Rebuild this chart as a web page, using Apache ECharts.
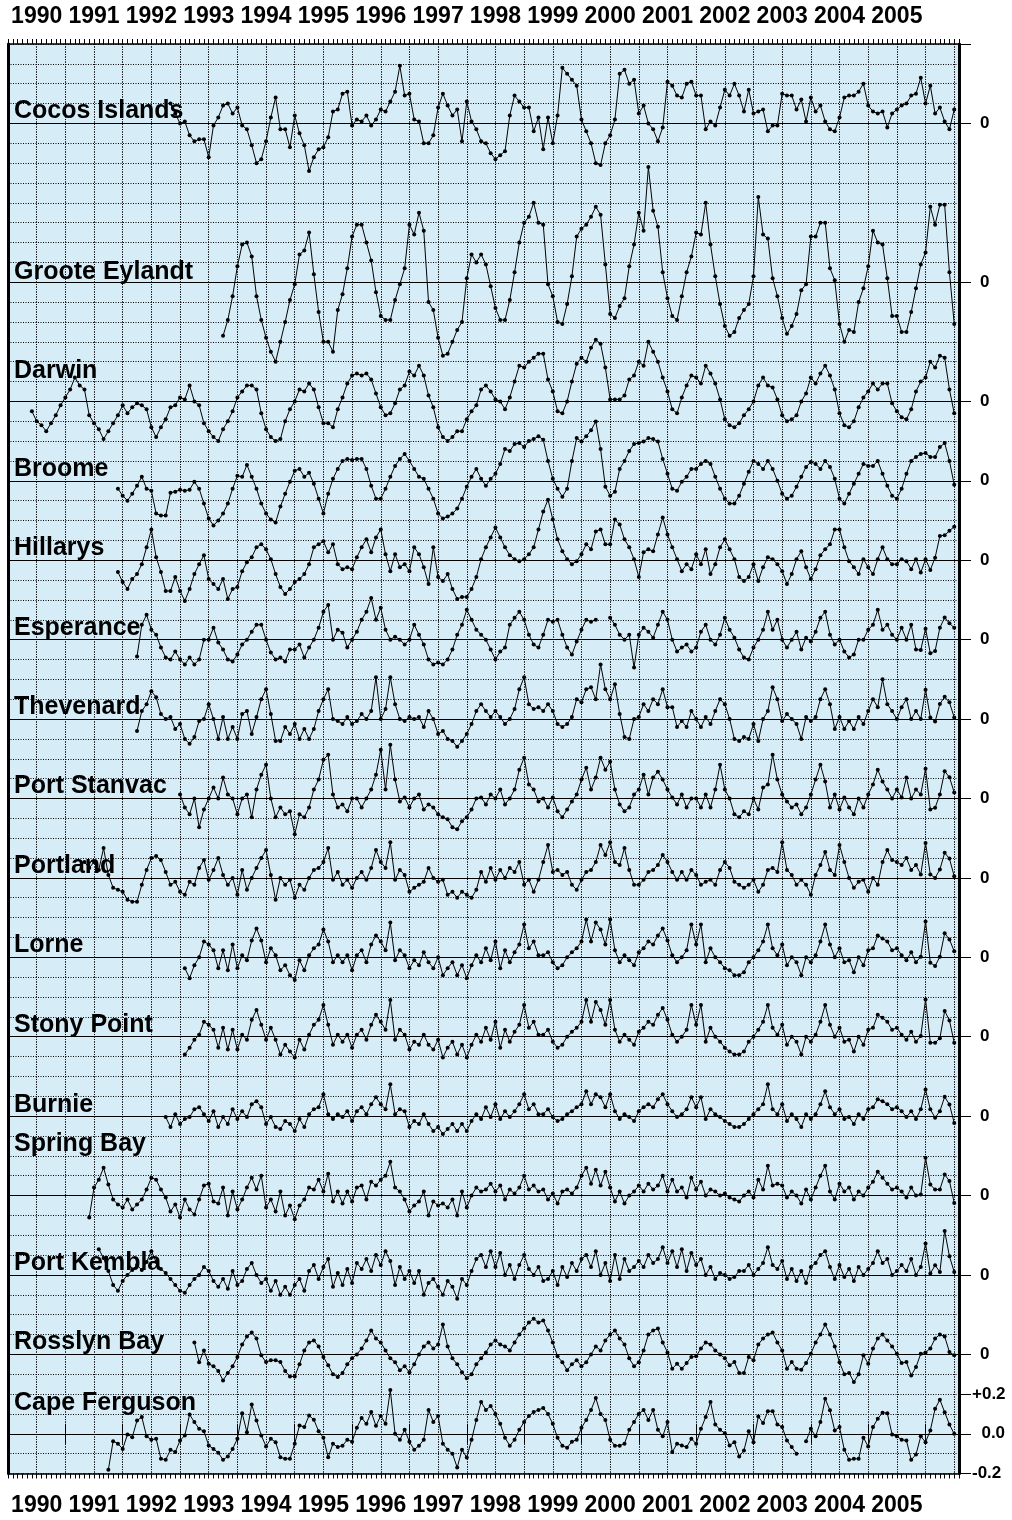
<!DOCTYPE html>
<html>
<head>
<meta charset="utf-8">
<script src="https://cdn.jsdelivr.net/npm/echarts@6/dist/echarts.min.js"></script>
<style>
html, body { margin: 0; padding: 0; background: #ffffff; }
#chart { width: 1012px; height: 1520px; }
</style>
</head>
<body>
<div id="chart"></div>
<script>
// Monthly mean sea-level anomalies (m) for Australian tide gauges.
// Month index 0 = January 1990; every record runs up to LAST_MONTH (July 2006).

const yearLabels = ['1990','1991','1992','1993','1994','1995','1996','1997',
  '1998','1999','2000','2001','2002','2003','2004','2005'];

const stationNames = ['Cocos Islands','Groote Eylandt','Darwin','Broome','Hillarys',
  'Esperance','Thevenard','Port Stanvac','Portland','Lorne','Stony Point','Burnie',
  'Spring Bay','Port Kembla','Rosslyn Bay','Cape Ferguson'];

// vertical offset of each station's zero line (m)
const stationOffsets = [6.6, 5.8, 5.2, 4.8, 4.4, 4.0, 3.6, 3.2, 2.8, 2.4, 2.0, 1.6, 1.2, 0.8, 0.4, 0.0];

const LAST_MONTH = 198;

const cocosIslands = [
  0.10,0.05,0.00,0.01,-0.06,-0.09,-0.08,-0.08,-0.17,-0.01,0.03,0.09,0.10,0.05,0.08,-0.01,
  -0.03,-0.11,-0.20,-0.18,-0.09,0.03,0.13,-0.03,-0.03,-0.12,0.04,-0.05,-0.11,-0.24,-0.17,-0.13,-0.12,
  -0.07,0.06,0.07,0.15,0.16,-0.01,0.02,0.01,0.04,-0.01,0.02,0.07,0.06,0.11,0.16,0.29,0.14,0.15,
  0.02,0.01,-0.10,-0.10,-0.06,0.08,0.15,0.09,0.04,0.07,-0.09,0.11,0.01,-0.03,-0.09,-0.10,-0.15,
  -0.18,-0.16,-0.14,0.04,0.14,0.11,0.08,0.08,-0.04,0.03,-0.13,0.03,-0.10,0.04,0.28,0.25,0.22,
  0.19,0.02,-0.04,-0.10,-0.20,-0.21,-0.10,-0.06,0.02,0.25,0.27,0.20,0.22,0.05,
  0.09,0.00,-0.03,-0.09,-0.02,0.21,0.19,0.14,0.13,0.20,0.21,0.14,0.14,-0.03,0.01,-0.01,0.08,
  0.17,0.14,0.20,0.14,0.06,0.17,0.05,0.06,0.07,-0.04,-0.01,-0.01,0.15,0.14,0.14,0.07,0.12,
  0.01,0.13,0.06,0.09,0.01,-0.03,-0.04,0.03,0.13,0.14,0.14,0.16,0.20,0.09,0.06,0.05,0.06,
  -0.02,0.05,0.07,0.09,0.10,0.14,0.15,0.23,0.10,0.19,0.05,0.08,0.01,-0.03,0.07
];

const grooteEylandt = [
  -0.27,-0.19,-0.07,0.08,0.19,0.20,0.13,-0.07,-0.19,-0.28,-0.35,-0.40,-0.30,-0.20,-0.09,-0.01,
  0.14,0.16,0.25,0.04,-0.15,-0.30,
  -0.30,-0.35,-0.14,-0.06,0.07,0.23,0.29,0.29,0.20,0.11,-0.05,-0.17,-0.19,-0.19,-0.09,-0.01,
  0.07,0.29,0.24,0.35,0.26,-0.10,-0.14,-0.28,-0.37,-0.36,-0.30,-0.24,-0.20,0.02,0.14,0.10,
  0.14,0.09,-0.02,-0.13,-0.19,-0.19,-0.09,0.05,0.20,0.30,0.33,0.40,0.30,0.29,-0.01,-0.07,
  -0.20,-0.21,-0.11,0.03,0.23,0.27,0.29,0.33,0.38,0.34,0.09,-0.16,-0.18,-0.12,-0.08,0.08,0.19,0.35,
  0.26,0.58,0.36,0.28,0.05,-0.08,-0.17,-0.19,-0.07,0.05,0.13,0.25,0.24,0.40,0.19,0.03,-0.11,
  -0.22,-0.27,-0.25,-0.18,-0.14,-0.11,0.03,0.43,0.24,0.22,0.02,-0.07,-0.18,-0.26,-0.22,-0.16,
  -0.04,-0.01,0.23,0.23,0.30,0.30,0.07,0.01,-0.21,-0.30,-0.24,-0.25,-0.10,-0.03,0.08,0.26,
  0.20,0.19,0.02,-0.17,-0.17,-0.25,-0.25,-0.15,-0.03,0.09,0.15,0.38,0.29,0.39,0.39,0.05,-0.21
];

const darwin = [
  -0.05,-0.10,-0.12,-0.15,-0.11,-0.07,-0.02,0.02,0.06,0.12,0.08,0.06,-0.07,-0.11,-0.14,-0.19,
  -0.15,-0.11,-0.07,-0.02,-0.06,-0.03,-0.01,-0.02,-0.04,-0.13,-0.18,-0.13,-0.09,-0.03,-0.02,
  0.02,0.01,0.08,0.00,-0.02,-0.11,-0.15,-0.18,-0.20,-0.14,-0.10,-0.05,0.02,0.05,0.08,0.08,0.06,
  -0.06,-0.14,-0.18,-0.20,-0.19,-0.10,-0.04,0.00,0.06,0.05,0.09,0.06,-0.03,-0.11,
  -0.11,-0.13,-0.04,0.02,0.09,0.13,0.14,0.13,0.14,0.11,0.04,-0.03,-0.07,-0.06,-0.01,0.06,0.08,
  0.15,0.13,0.18,0.13,0.03,-0.03,-0.13,-0.18,-0.20,-0.18,-0.15,-0.15,-0.09,-0.05,-0.02,0.06,
  0.08,0.05,0.01,0.00,-0.04,0.02,0.10,0.18,0.17,0.20,0.22,0.24,0.24,0.11,0.05,-0.05,-0.06,0.00,
  0.10,0.19,0.22,0.20,0.27,0.31,0.29,0.17,0.01,0.01,0.01,0.03,0.11,0.13,0.20,
  0.18,0.30,0.25,0.20,0.12,0.05,-0.04,-0.06,0.02,0.08,0.13,0.12,0.09,0.18,0.14,0.09,0.01,
  -0.09,-0.12,-0.13,-0.11,-0.07,-0.04,0.00,0.08,0.12,0.08,0.07,0.01,-0.07,-0.10,-0.09,-0.07,
  0.00,0.04,0.12,0.09,0.14,0.18,0.13,0.06,-0.06,-0.12,-0.13,-0.10,-0.03,0.02,0.05,0.09,0.06,
  0.09,0.09,-0.01,-0.05,-0.08,-0.09,-0.04,0.05,0.10,0.12,0.20,0.17,0.23,0.22,0.06,-0.06
];

const broome = [
  -0.04,-0.075,-0.10,-0.065,-0.025,0.02,-0.04,-0.05,-0.165,-0.175,-0.175,-0.06,-0.055,
  -0.045,-0.05,-0.045,-0.005,-0.04,-0.115,-0.19,-0.225,-0.20,-0.165,-0.115,-0.04,
  0.025,0.02,0.08,0.02,-0.04,-0.115,-0.165,-0.195,-0.21,-0.13,-0.065,-0.005,
  0.05,0.06,0.02,0.04,-0.015,-0.09,-0.165,-0.065,0.01,0.06,0.10,0.11,
  0.105,0.11,0.11,0.06,-0.025,-0.09,-0.09,-0.04,0.02,0.075,0.11,0.135,
  0.10,0.06,0.02,0.01,-0.04,-0.09,-0.165,-0.19,-0.18,-0.165,-0.14,-0.09,
  -0.03,0.02,0.06,0.01,-0.025,0.01,0.035,0.085,0.16,0.15,0.185,0.19,
  0.17,0.20,0.21,0.224,0.207,0.10,0.01,-0.04,-0.08,-0.04,0.10,0.215,
  0.198,0.224,0.254,0.299,0.16,-0.03,-0.075,-0.055,0.06,0.10,0.15,0.185,
  0.19,0.198,0.215,0.21,0.198,0.11,0.035,-0.04,-0.05,-0.005,0.02,0.06,
  0.06,0.085,0.10,0.085,0.02,-0.04,-0.09,-0.115,-0.115,-0.075,-0.015,0.045,
  0.10,0.085,0.06,0.10,0.06,0.0,-0.065,-0.09,-0.075,-0.03,0.02,0.07,
  0.095,0.085,0.06,0.10,0.07,0.01,-0.09,-0.115,-0.065,-0.015,0.035,0.085,
  0.075,0.075,0.10,0.035,-0.025,-0.075,-0.09,-0.04,0.035,0.10,0.12,0.135,
  0.14,0.12,0.12,0.17,0.19,0.10,-0.02
];

const hillarys = [
  -0.06,-0.11,-0.145,-0.095,-0.07,-0.02,0.065,0.155,0.015,-0.06,-0.155,-0.155,-0.085,
  -0.155,-0.205,-0.145,-0.07,-0.02,0.025,-0.095,-0.12,-0.145,-0.095,-0.195,-0.145,
  -0.135,-0.055,-0.01,0.015,0.065,0.08,0.055,0.005,-0.07,-0.135,-0.17,-0.145,
  -0.11,-0.095,-0.07,-0.02,0.065,0.08,0.095,0.04,0.08,-0.02,-0.045,-0.035,
  -0.045,0.015,0.065,0.105,0.04,0.115,0.155,0.03,-0.055,0.03,-0.035,-0.02,
  -0.055,0.065,0.03,-0.035,-0.12,0.065,-0.085,-0.105,-0.07,-0.145,-0.195,-0.185,
  -0.185,-0.145,-0.085,0.005,0.065,0.115,0.165,0.115,0.065,0.025,0.005,-0.005,
  0.005,0.03,0.065,0.155,0.245,0.305,0.205,0.105,0.045,0.005,-0.02,-0.005,
  0.03,0.08,0.055,0.145,0.155,0.08,0.08,0.205,0.18,0.105,0.065,0.005,
  -0.085,0.04,0.055,0.045,0.13,0.215,0.13,0.065,0.005,-0.055,-0.02,-0.045,
  0.03,-0.02,0.055,-0.07,-0.02,0.065,0.105,0.055,0.005,-0.085,-0.105,-0.085,
  -0.02,-0.105,-0.035,0.015,0.005,-0.02,-0.055,-0.12,-0.07,0.005,0.045,-0.035,
  -0.095,-0.045,0.025,0.055,0.08,0.155,0.155,0.065,-0.005,-0.035,-0.07,0.005,
  -0.035,-0.07,0.005,0.065,0.005,-0.02,-0.02,0.005,-0.005,-0.045,0.005,-0.062,
  0.005,-0.049,0.013,0.122,0.126,0.148,0.169
];

const esperance = [
  -0.085,0.075,0.125,0.05,0.025,-0.04,-0.09,-0.10,-0.06,
  -0.10,-0.125,-0.09,-0.125,-0.10,0,0,0.06,-0.015,-0.05,-0.10,-0.11,
  -0.075,-0.025,0,0.04,0.075,0.075,0,-0.065,-0.10,-0.09,-0.11,-0.05,
  -0.05,-0.025,-0.09,-0.04,0,0.06,0.14,0.175,0,0.05,0.035,-0.04,
  0,0.04,0.10,0.14,0.21,0.10,0.16,0.05,0,0.015,0,-0.025,
  0,0.075,0.025,-0.025,-0.10,-0.125,-0.115,-0.125,-0.10,-0.05,0.025,0.075,
  0.15,0.10,0.05,0.025,0,-0.05,-0.10,-0.06,-0.04,0.075,0.11,0.14,
  0.10,0.025,-0.025,-0.04,0.025,0.10,0.09,0.10,0.025,-0.04,-0.075,-0.01,
  0.05,0.10,0.09,0.10,null,null,0.11,0.075,0.025,0,0.025,-0.14,
  0.025,0.06,0.04,0.01,0.075,0.14,0.10,0,-0.06,-0.04,-0.025,-0.06,
  -0.04,0.04,0.075,0,-0.025,0.025,0.11,0.05,0.01,-0.05,-0.09,-0.10,
  -0.04,0,0.05,0.14,0.05,0.10,0,-0.04,0,0.04,-0.05,0.01,
  -0.01,0.04,0.11,0.14,0.025,-0.025,0,-0.06,-0.09,-0.075,0,0,
  0.05,0.075,0.15,0.05,0.075,0.025,0,0.06,0,0.075,-0.05,-0.052,
  0.055,-0.069,-0.057,0.06,0.111,0.082,0.06
];

const thevenard = [
  -0.06,0.04,0.075,0.14,0.11,0.025,0,0.01,-0.05,
  -0.025,-0.10,-0.125,-0.09,-0.01,0,0.075,0,-0.10,0.01,-0.10,-0.04,
  -0.10,0.025,0.04,-0.075,0.01,0.10,0.15,0.025,-0.11,-0.11,-0.04,-0.075,
  -0.025,-0.10,-0.05,-0.10,-0.05,0.04,0.10,0.15,0,-0.01,-0.025,0.01,
  -0.025,-0.01,0.025,0,0.04,0.21,0,0.05,0.21,0.075,0,-0.01,
  0.01,0,0.01,-0.04,0.04,0,-0.075,-0.06,-0.10,-0.11,-0.14,-0.11,
  -0.075,-0.025,0.04,0.075,0.04,0.01,0.04,0.01,-0.025,0,0.05,0.15,
  0.21,0.075,0.05,0.06,0.04,0.075,0.04,-0.025,-0.04,-0.025,0.01,0.10,
  0.085,0.15,0.16,0.10,0.275,0.15,0.10,0.175,0.025,-0.09,-0.10,0,
  0.01,0.075,0.04,0.10,0.075,0.15,0.06,0.06,-0.04,-0.01,-0.04,0.04,
  0,-0.04,0.01,-0.025,0.04,0.10,0.075,0,-0.10,-0.11,-0.09,-0.10,
  -0.025,-0.11,0,0.04,0.16,0.10,-0.01,0.025,0,-0.025,-0.10,0.01,
  -0.01,0.01,0.10,0.15,0.075,-0.05,0.01,-0.05,-0.01,-0.05,0.01,-0.025,
  0.04,0.10,0.06,0.20,0.075,0.04,0,0.06,0.10,0,0.04,0,
  0.148,0.008,-0.013,0.076,0.112,0.084,0.008
];

const portStanvac = [
  0.02,-0.045,-0.08,0,-0.145,-0.055,0,0.055,0,0.105,0.02,0,
  -0.08,0,0.02,-0.095,0.045,0.12,0.17,0,-0.095,-0.045,-0.08,-0.065,
  -0.18,-0.08,-0.095,-0.045,0.045,0.095,0.195,0.22,0.02,-0.045,-0.03,-0.065,
  0,0,-0.045,0,0.045,0.12,0.245,0.045,0.27,0.095,-0.015,0.005,
  -0.045,0,0.02,-0.055,-0.03,-0.045,-0.08,-0.095,-0.105,-0.145,-0.155,-0.115,
  -0.095,-0.055,0,0.005,-0.03,0.02,0,0.045,-0.03,0,0.045,0.145,
  0.205,0.07,0.045,-0.015,0,-0.045,0.005,-0.065,-0.095,-0.055,-0.015,0.02,
  0.095,0.155,0.045,0.105,0.205,0.145,0.185,0.045,-0.03,-0.065,-0.045,0.02,
  0.045,0.12,0.02,0.105,0.135,0.095,0.045,0.005,-0.03,0.02,-0.045,0,
  0,-0.045,0.02,-0.045,0.045,0.17,0.045,0,-0.08,-0.095,-0.065,-0.08,
  0,-0.055,0.055,0.07,0.22,0.095,0.02,-0.015,-0.045,-0.03,-0.08,-0.045,
  0.02,0.095,0.17,0.085,-0.045,0.02,-0.055,0.005,-0.045,-0.08,0,-0.045,
  0.02,0.07,0.145,0.085,0.045,0,0.045,0.005,0.105,0,0.045,0.02,
  0.15,-0.055,-0.047,0.02,0.137,0.107,0.03
];

const portland = [
  0.08,0.05,0.08,0.04,0.15,0.015,-0.05,-0.06,
  -0.07,-0.11,-0.12,-0.12,-0.035,0.04,0.10,0.11,0.09,0.03,-0.035,-0.02,
  -0.07,-0.085,-0.02,-0.035,0.05,0.09,-0.01,0.04,0.10,0.015,-0.035,0,
  -0.085,0.04,-0.06,0,0.05,0.10,0.14,0.015,-0.11,0,-0.035,-0.01,
  -0.10,-0.035,-0.06,0,0.04,0.05,0.08,0.15,-0.01,0.03,-0.035,-0.01,
  -0.05,0,0.03,-0.01,0.05,0.14,0.08,0.05,0.18,-0.01,0.04,0.015,
  -0.07,-0.05,-0.035,-0.02,0.05,0,-0.02,-0.01,-0.085,-0.07,-0.10,-0.07,
  -0.085,-0.10,-0.06,0.03,-0.02,0.05,-0.01,0.04,0,0.05,0.03,0.08,
  -0.035,-0.01,-0.07,-0.01,0.08,0.165,0.03,0.04,0.015,0.03,-0.035,-0.06,
  -0.01,0.03,0.04,0.08,0.165,0.115,0.18,0.08,0.065,0.15,0.04,-0.035,
  -0.035,-0.01,0.03,0.04,0.065,0.115,0.08,0.03,-0.01,0.03,-0.01,0.04,
  0.015,-0.035,-0.02,-0.01,-0.035,0.04,0.08,0.05,-0.02,-0.035,-0.05,-0.035,
  -0.01,-0.07,-0.035,0.04,0.05,0.03,0.18,0.04,0.015,-0.035,-0.01,-0.035,
  -0.085,0.015,0.065,0.13,0.04,0.015,0.165,0.08,0,-0.05,-0.02,-0.01,
  -0.07,0,-0.035,0.08,0.14,0.09,0.08,0.065,0.10,0.04,0.065,0.017,
  0.176,0.017,0,0.042,0.126,0.097,0.008
];

const lorne = [
  -0.055,-0.105,-0.04,0,0.08,0.065,0.035,-0.055,0.035,-0.065,0.065,
  -0.055,0.01,-0.015,0.085,0.145,0.085,-0.025,0.045,0.01,-0.065,-0.04,-0.09,
  -0.115,-0.015,-0.065,0.01,0.045,0.065,0.14,0.08,-0.025,0.01,-0.025,0.01,
  -0.065,0.01,0.035,-0.025,0.065,0.11,0.08,0.035,0.175,-0.015,0.035,0.01,
  -0.055,-0.015,-0.04,0.025,-0.025,-0.055,0,-0.09,-0.055,-0.025,-0.09,-0.04,
  -0.105,-0.04,0.01,-0.025,0.045,-0.015,0.08,-0.055,0.035,-0.025,0.025,0.065,
  0.165,0.045,0.08,0.01,0.01,0.025,-0.025,-0.055,-0.04,0,0.025,0.045,
  0.08,0.19,0.08,0.175,0.14,0.065,0.19,0.035,-0.025,0.01,-0.015,-0.04,
  0.025,0.045,0.08,0.065,0.11,0.145,0.085,0.01,-0.025,0,0.035,0.165,
  0.065,0.165,-0.025,0.045,0,-0.025,-0.055,-0.065,-0.09,-0.09,-0.075,-0.025,
  0,0.035,0.08,0.165,0.045,0.01,0.065,-0.04,0,-0.025,-0.09,0,
  -0.025,0.01,0.08,0.165,0.065,0,0.045,-0.025,-0.015,-0.075,0,-0.04,
  0.035,0.045,0.11,0.095,0.08,0.035,0.045,0.01,-0.015,0.025,-0.025,0.003,
  0.18,-0.027,-0.044,0.003,0.121,0.09,0.03
];

const stonyPoint = [
  -0.09,-0.055,-0.015,0.01,0.075,0.06,0.035,-0.055,0.045,-0.065,0.035,
  -0.065,0.01,-0.015,0.085,0.135,0.06,-0.015,0.045,-0.015,-0.09,-0.04,-0.075,
  -0.105,-0.015,-0.065,0.01,0.06,0.085,0.16,0.06,-0.04,0.01,-0.025,0.01,
  -0.055,0.01,0.035,-0.015,0.06,0.11,0.075,0.035,0.185,-0.015,0.035,0.01,
  -0.065,-0.025,-0.04,0.01,-0.04,-0.065,-0.015,-0.105,-0.055,-0.025,-0.09,-0.04,
  -0.105,-0.04,0.01,-0.025,0.045,-0.015,0.075,-0.055,0.035,-0.025,0.025,0.06,
  0.16,0.045,0.075,0.01,0.01,0.035,-0.025,-0.055,-0.04,0,0.025,0.045,
  0.075,0.185,0.075,0.175,0.135,0.06,0.185,0.035,-0.025,0.01,-0.015,-0.04,
  0.025,0.045,0.075,0.06,0.11,0.145,0.085,0.01,-0.025,0,0.035,0.16,
  0.06,0.16,-0.025,0.045,0,-0.025,-0.055,-0.075,-0.09,-0.09,-0.075,-0.025,
  0,0.035,0.075,0.16,0.045,0.01,0.06,-0.04,0,-0.025,-0.09,0,
  -0.025,0.01,0.075,0.16,0.06,0,0.045,-0.025,-0.015,-0.075,0,-0.04,
  0.035,0.045,0.11,0.095,0.075,0.035,0.045,0.01,-0.015,0.025,-0.025,0.003,
  0.188,-0.03,-0.03,-0.008,0.13,0.082,-0.03
];

const burnie = [
  -0.005,-0.055,0.01,
  -0.04,-0.015,-0.005,0.035,0.045,0.01,-0.025,0.025,-0.055,-0.005,-0.04,0.035,
  -0.015,0.025,-0.005,0.06,0.075,0.045,-0.04,-0.005,-0.055,-0.065,-0.025,-0.04,
  -0.075,-0.015,-0.055,0.01,0.035,0.045,0.11,0.01,-0.015,0.01,-0.005,0.025,
  -0.025,0.025,0.045,0.01,0.06,0.095,0.06,0.035,0.16,0.01,0.035,0.025,
  -0.055,-0.025,-0.04,0.01,-0.04,-0.075,-0.055,-0.09,-0.065,-0.04,-0.075,-0.04,
  -0.075,-0.025,0.01,-0.015,0.045,-0.005,0.06,-0.015,0.025,-0.005,0.025,0.06,
  0.11,0.035,0.06,0.01,0.01,0.035,-0.005,-0.025,-0.015,0.01,0.025,0.045,
  0.06,0.125,0.06,0.11,0.095,0.045,0.11,0.025,-0.015,0.01,-0.005,-0.025,
  0.025,0.045,0.06,0.045,0.085,0.11,0.06,0.025,-0.005,0.01,0.035,0.095,
  0.045,0.095,-0.015,0.035,0.01,-0.005,-0.025,-0.04,-0.055,-0.055,-0.04,-0.015,
  0.01,0.035,0.06,0.16,0.035,0.01,0.06,-0.025,0.01,-0.015,-0.055,0.01,
  -0.015,0.01,0.06,0.125,0.045,0.01,0.035,-0.015,-0.005,-0.04,0.01,-0.015,
  0.035,0.045,0.085,0.075,0.06,0.035,0.045,0.025,-0.005,0.025,-0.015,0.034,
  0.134,0.034,-0.008,0.025,0.097,0.059,-0.034
];

const springBay = [
  -0.11,0.04,0.08,0.14,0.055,-0.02,-0.045,
  -0.06,-0.02,-0.07,-0.045,-0.02,0.03,0.09,0.08,0.03,-0.01,-0.08,-0.045,
  -0.11,-0.02,-0.07,-0.095,-0.02,0.05,0.06,-0.03,-0.04,0.04,-0.10,0.02,
  -0.07,-0.02,0.04,0.09,0.03,0.10,-0.06,-0.02,-0.08,0.02,-0.10,-0.05,
  -0.12,-0.05,-0.02,0.04,0.03,0.08,0.02,0.11,-0.03,0.02,-0.04,0.02,
  -0.03,0.04,0.05,-0.02,0.07,0.05,0.08,0.10,0.17,0.04,0.02,-0.02,
  -0.08,-0.05,-0.03,0.02,-0.10,-0.03,-0.05,-0.04,-0.06,-0.02,-0.10,0.02,
  -0.06,0,0.04,0.02,0.03,0.06,0.02,0.05,-0.02,0.03,0.01,0.04,
  0.10,0.03,0.05,0.02,0.03,-0.02,0.01,-0.04,0.02,0.03,0.01,0.04,
  0.10,0.14,0.06,0.13,0.05,0.12,0.04,-0.03,0.02,-0.04,0,0.02,
  0.05,0.02,0.06,0.03,0.05,0.10,0.02,0.08,0.02,0.04,-0.01,0.09,
  0.03,0.07,0,0.03,0.02,0,0.01,-0.01,-0.02,-0.03,0,0.02,
  -0.01,0.08,0.03,0.15,0.05,0.06,0.05,-0.01,0.02,0,-0.04,0.03,
  -0.02,0.04,0.10,0.15,0.02,-0.02,0.06,0.02,0.04,-0.02,0.02,0,
  0.04,0.07,0.12,0.09,0.06,0.03,0.04,0.02,-0.01,0.04,0,0.005,
  0.19,0.055,0.03,0.03,0.106,0.073,-0.037
];

const portKembla = [
  0.13,0.085,0.02,-0.05,-0.08,
  -0.03,0,0.025,0.05,0.025,0.065,0.12,0.065,0.03,0.01,-0.02,-0.05,
  -0.08,-0.09,-0.05,-0.02,0,0.04,0.02,-0.03,-0.06,-0.02,-0.07,0.02,
  -0.05,-0.03,0.03,0.06,0,-0.04,-0.02,-0.08,-0.03,-0.10,-0.06,-0.10,
  -0.05,-0.02,-0.08,0.02,0.05,-0.02,0.04,0.08,-0.06,0.01,-0.05,0.03,
  -0.04,0.06,0.03,0.08,0.02,0.10,0.05,0.12,0.07,-0.05,0.04,-0.02,
  0.02,-0.04,0.02,-0.10,-0.04,-0.02,-0.06,-0.10,-0.03,-0.06,-0.12,-0.02,
  -0.05,0.02,0.08,0.10,0.04,0.12,0.04,0.11,0,0.05,-0.02,0.05,
  0.10,0.03,0,0.04,-0.03,-0.02,0.02,-0.05,0.04,-0.01,0.06,0.02,
  0.08,0.10,0.04,0.12,0,0.06,-0.03,0.10,-0.02,0.08,0.02,0.04,
  0.07,0.04,0.10,0.06,0.08,0.14,0.06,0.12,0.04,0.13,0.02,0.11,
  0.05,0.08,0,0.04,-0.02,0.01,0,-0.02,-0.01,0.02,0.02,0.05,
  0,0.03,0.06,0.14,0.05,0.03,0.07,-0.02,0.03,-0.03,0.02,-0.04,
  0.04,0.06,0.10,0.12,0.04,-0.02,0.05,-0.01,0.03,-0.03,0.04,0,
  0.03,0.06,0.12,0.06,0.08,0,0.02,0.05,0.02,0.08,0,0.04,
  0.158,0.007,0.049,0.015,0.222,0.094,0.015
];

const rosslynBay = [
  0.06,
  -0.04,0.02,-0.047,-0.06,-0.084,-0.131,-0.094,-0.06,
  -0.013,0.05,0.09,0.11,0.08,-0.005,-0.039,-0.03,-0.03,-0.039,-0.084,-0.111,
  -0.111,-0.05,0.02,0.06,0.07,0.04,-0.013,-0.055,-0.10,-0.114,-0.094,-0.05,
  -0.02,0,0.03,0.07,0.12,0.08,0.06,0.02,-0.02,-0.04,-0.08,-0.06,
  -0.09,-0.05,0,0.04,0.06,0.03,0.05,0.15,0.04,-0.02,-0.05,-0.09,
  -0.12,-0.10,-0.05,-0.02,0.01,0.05,0.07,0.05,0.04,0.02,0.06,0.10,
  0.13,0.16,0.18,0.16,0.17,0.12,0.06,-0.01,-0.04,-0.08,-0.05,-0.03,
  -0.06,-0.04,0,0.04,0.02,0.07,0.10,0.12,0.08,0.05,-0.02,-0.06,
  -0.04,0.02,0.10,0.12,0.13,0.06,0.01,-0.072,-0.047,-0.072,-0.044,-0.013,
  -0.01,0.03,0.06,0.05,0.02,0,-0.02,-0.055,-0.039,-0.094,-0.094,-0.013,
  -0.03,0.05,0.08,0.10,0.11,0.06,0.02,-0.072,-0.039,-0.072,-0.077,-0.044,
  0.003,0.06,0.10,0.15,0.10,0.04,-0.04,-0.10,-0.094,-0.139,-0.10,-0.005,
  -0.047,0.03,0.08,0.10,0.07,0.04,0.003,-0.044,-0.039,-0.106,-0.064,0.003,
  0.01,0.03,0.08,0.10,0.09,0.012,-0.005
];

const capeFerguson = [
  -0.181,-0.037,-0.05,
  -0.076,-0.003,-0.017,0.067,0.084,-0.013,-0.03,-0.025,-0.126,-0.131,-0.081,-0.092,
  -0.034,-0.008,0.097,0.059,0.025,0.013,-0.059,-0.076,-0.096,-0.131,-0.114,-0.076,
  -0.025,0.104,0.008,0.148,0.067,-0.008,-0.064,-0.025,-0.042,-0.118,-0.126,-0.126,
  -0.05,0.042,0.034,0.092,0.071,0.013,-0.02,-0.118,-0.05,-0.067,-0.06,-0.03,
  -0.04,0.03,0.08,0.05,0.11,0.04,0.09,0.05,0.22,0,-0.03,0.02,
  -0.04,-0.08,-0.06,-0.03,0.12,0.06,0.09,-0.05,-0.08,-0.10,-0.17,-0.08,
  -0.12,-0.03,0.07,0.16,0.12,0.14,0.10,0.05,-0.02,-0.06,-0.03,0.02,
  0.06,0.09,0.11,0.12,0.13,0.10,0.05,-0.02,-0.06,-0.07,-0.04,-0.03,
  0.03,0.07,0.12,0.18,0.10,0.07,-0.03,-0.06,-0.06,-0.05,0.02,0.06,
  0.10,0.12,0.07,0.12,0.02,-0.013,0.059,-0.092,-0.05,-0.059,-0.067,-0.025,
  -0.05,0.025,0.084,0.16,0.047,0.02,0.003,-0.059,-0.042,-0.114,-0.084,0.013,
  -0.042,0.087,0.054,0.114,0.114,0.047,0.034,-0.034,-0.067,-0.1,null,-0.037,
  0.025,-0.013,0.059,0.176,0.118,0.017,0.034,-0.08,-0.131,-0.126,-0.126,-0.02,
  -0.064,0.034,0.076,0.106,0.104,-0.003,-0.013,-0.03,-0.034,-0.131,-0.104,-0.013,
  -0.042,0.017,0.126,0.172,0.109,0.047,0
];

const stationValues = [cocosIslands, grooteEylandt, darwin, broome, hillarys, esperance,
  thevenard, portStanvac, portland, lorne, stonyPoint, burnie, springBay, portKembla,
  rosslynBay, capeFerguson];

// first month index of each record
const stationStarts = stationValues.map(v => LAST_MONTH - v.length + 1);

// height of each station name's centre above its zero line (m)
const nameLift = [0.06, 0.05, 0.15, 0.06, 0.06, 0.06, 0.06, 0.06, 0.06, 0.06, 0.06, 0.055,
  0.26, 0.06, 0.06, 0.155];

// scale labels drawn next to the lowest record
const scaleTicks = [0.2, 0.0, -0.2];
const scaleLabels = ['+0.2', '  0.0', '-0.2'];

const X_MIN = 1990, X_MAX = 2006 + 7 / 12;
const Y_MIN = -0.2, Y_MAX = 7.0;
const FONT = '"Liberation Sans", Arial, Helvetica, sans-serif';

const near = (a, b) => Math.abs(a - b) < 1e-6;

function yearLabel(v) {
  const y = Math.floor(v + 1e-9);
  if (near(v - y, 0.5) && y - 1990 < yearLabels.length) return yearLabels[y - 1990];
  return '';
}

function halfYearAxis(position, margin) {
  return {
    type: 'value', position: position, min: X_MIN, max: X_MAX, interval: 0.5,
    axisLine: { show: true, onZero: false, lineStyle: { color: '#000', width: 1.5 } },
    axisTick: { show: true, length: 5, lineStyle: { color: '#000', width: 1 } },
    minorTick: { show: true, splitNumber: 6, length: 5, lineStyle: { color: '#000', width: 1 } },
    splitLine: { show: true, lineStyle: { color: '#000', width: 1, type: [1, 1.5] } },
    axisLabel: {
      show: true, formatter: yearLabel, margin: margin, showMinLabel: false, showMaxLabel: false,
      fontFamily: FONT, fontWeight: 'bold', fontSize: 23, color: '#000'
    }
  };
}

function yearTickAxis(position) {
  return {
    type: 'value', position: position, min: X_MIN, max: X_MAX, interval: 1,
    axisLine: { show: false },
    axisTick: { show: true, length: 10, lineStyle: { color: '#000', width: 1 } },
    axisLabel: { show: false },
    splitLine: { show: false }
  };
}

const series = stationNames.map((name, k) => {
  const off = stationOffsets[k];
  const start = stationStarts[k];
  return {
    name: name,
    type: 'line',
    xAxisIndex: 0,
    yAxisIndex: 0,
    data: stationValues[k].map((v, i) => [X_MIN + (start + i) / 12, v === null ? '-' : off + v]),
    symbol: 'circle',
    symbolSize: 4,
    showSymbol: true,
    connectNulls: false,
    lineStyle: { color: '#000', width: 1 },
    itemStyle: { color: '#000' },
    z: 5,
    markLine: {
      silent: true, symbol: 'none', animation: false,
      label: { show: false },
      lineStyle: { color: '#000', width: 1, type: 'solid' },
      data: [{ yAxis: off }]
    }
  };
});

const zeroLabelValues = stationOffsets.slice(0, stationOffsets.length - 1);
const rightTickValues = stationOffsets.concat([0.2, -0.2, Y_MAX]);

const chart = echarts.init(document.getElementById('chart'), null, { renderer: 'canvas' });

const option = {
  animation: false,
  backgroundColor: '#ffffff',
  grid: {
    left: 8, right: 1012 - 959, top: 44, bottom: 1520 - 1473.5,
    show: true, backgroundColor: '#d6edf7', borderWidth: 0
  },
  xAxis: [
    halfYearAxis('bottom', 21),
    halfYearAxis('top', 16),
    yearTickAxis('top'),
    yearTickAxis('bottom')
  ],
  yAxis: [
    {
      type: 'value', position: 'left', min: Y_MIN, max: Y_MAX, interval: 0.1,
      axisLine: { show: true, onZero: false, lineStyle: { color: '#000', width: 3 } },
      axisTick: { show: false }, axisLabel: { show: false },
      splitLine: { show: true, lineStyle: { color: '#000', width: 1, type: [1, 1.5] } }
    },
    {
      type: 'value', position: 'right', min: Y_MIN, max: Y_MAX,
      axisLine: { show: true, onZero: false, lineStyle: { color: '#000', width: 3 } },
      axisTick: { show: true, length: 12, customValues: rightTickValues,
        lineStyle: { color: '#000', width: 1 } },
      axisLabel: {
        show: true, customValues: zeroLabelValues, formatter: () => '0', margin: 21,
        align: 'left', fontFamily: FONT, fontWeight: 'bold', fontSize: 17, color: '#000'
      },
      splitLine: { show: false }
    },
    {
      type: 'value', position: 'right', min: Y_MIN, max: Y_MAX,
      axisLine: { show: false }, axisTick: { show: false },
      axisLabel: {
        show: true, customValues: scaleTicks,
        formatter: v => scaleLabels[scaleTicks.findIndex(t => near(t, v))] || '',
        margin: 13, align: 'left', fontFamily: FONT, fontWeight: 'bold', fontSize: 17, color: '#000'
      },
      splitLine: { show: false }
    }
  ],
  series: series
};

chart.setOption(option);

// station names, each placed just above its own zero line
chart.setOption({
  graphic: stationNames.map((name, k) => {
    const p = chart.convertToPixel({ xAxisIndex: 0, yAxisIndex: 0 },
      [X_MIN, stationOffsets[k] + nameLift[k]]);
    return {
      type: 'text', x: 14, y: p[1], z: 50,
      style: {
        text: name, fill: '#000', align: 'left', verticalAlign: 'middle',
        font: 'bold 25px ' + FONT
      }
    };
  })
});
</script>
</body>
</html>
